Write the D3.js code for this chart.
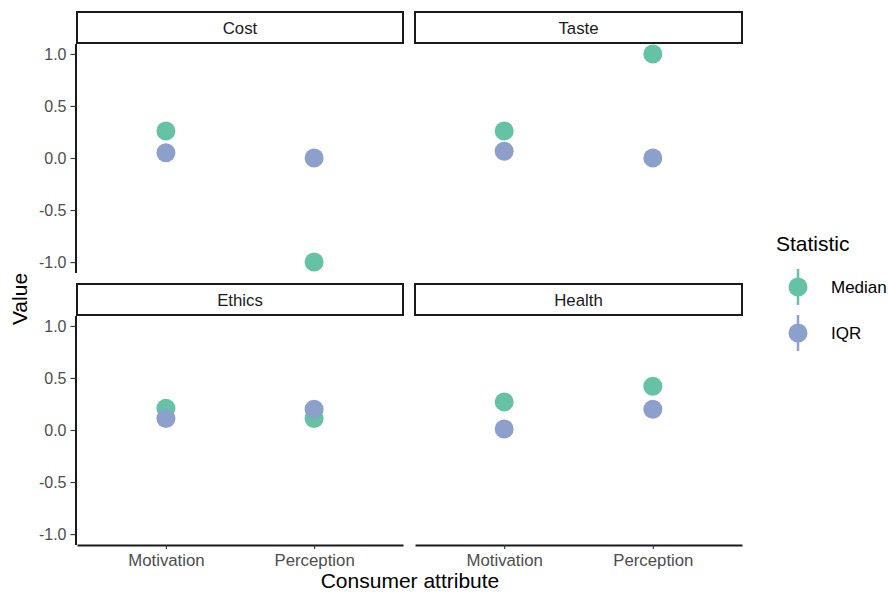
<!DOCTYPE html>
<html>
<head>
<meta charset="utf-8">
<script src="https://cdn.jsdelivr.net/npm/d3@7"></script>
<style>
  html, body { margin: 0; padding: 0; background: #fff; }
  svg { display: block; font-family: "Liberation Sans", Arial, Helvetica, sans-serif; }
</style>
</head>
<body>
<svg id="chart" width="888" height="593"></svg>
<script>
// Facets (2 x 2 grid, row-major), categories and statistics
const facets = ["Cost", "Taste", "Ethics", "Health"];
const attributes = ["Motivation", "Perception"];
const statistics = ["Median", "IQR"];

// Values per facet, ordered as in `attributes`
const medianValues = [
  [0.26, -1.0],  // Cost
  [0.26, 1.0],   // Taste
  [0.21, 0.11],  // Ethics
  [0.27, 0.42]   // Health
];
const iqrValues = [
  [0.05, 0.0],   // Cost
  [0.065, 0.0],  // Taste
  [0.11, 0.2],   // Ethics
  [0.01, 0.2]    // Health
];

const yTicks = [-1.0, -0.5, 0.0, 0.5, 1.0];
const yDomain = [-1.1, 1.1];

const colors = { Median: "#66c2a5", IQR: "#8da0cb" };

// Long-format rows built from the arrays above
const rows = [];
facets.forEach((f, fi) => {
  attributes.forEach((a, ai) => {
    rows.push({ facet: f, attribute: a, statistic: "Median", value: medianValues[fi][ai] });
    rows.push({ facet: f, attribute: a, statistic: "IQR", value: iqrValues[fi][ai] });
  });
});

const svg = d3.select("#chart");
const FONT = "Liberation Sans, Arial, Helvetica, sans-serif";

// Panel geometry
const colX = [[77, 403], [415, 742]];
const stripH = 31;
const rowY = [[12, 43.5, 272.5], [284, 315.5, 544.5]]; // strip top, panel top, panel bottom

const axisColor = "#1a1a1a";
const tickLabelColor = "#4d4d4d";

facets.forEach((facet, fi) => {
  const r = Math.floor(fi / 2), c = fi % 2;
  const [x0, x1] = colX[c];
  const [sTop, pTop, pBot] = rowY[r];

  const x = d3.scalePoint().domain(attributes).range([x0, x1]).padding(0.6);
  const y = d3.scaleLinear().domain(yDomain).range([pBot, pTop]);

  const g = svg.append("g");

  // Strip
  g.append("rect")
    .attr("x", x0).attr("y", sTop)
    .attr("width", x1 - x0).attr("height", stripH)
    .attr("fill", "#fff").attr("stroke", "#1a1a1a").attr("stroke-width", 2);
  g.append("text")
    .attr("x", (x0 + x1) / 2).attr("y", sTop + stripH / 2 + 1)
    .attr("text-anchor", "middle").attr("dominant-baseline", "central")
    .style("font-size", "16.8px").attr("fill", "#1a1a1a")
    .text(facet);

  // Y axis on left column
  if (c === 0) {
    const ya = g.append("g")
      .attr("transform", `translate(${x0 - 1.5},0)`)
      .call(d3.axisLeft(y).tickValues(yTicks).tickSize(5).tickSizeOuter(0).tickPadding(4));
    ya.select(".domain").attr("stroke", axisColor).attr("stroke-width", 2);
    ya.selectAll(".tick line").attr("stroke", "#333").attr("stroke-width", 1.1);
    ya.selectAll(".tick text").attr("fill", tickLabelColor)
      .style("font-size", "16px").style("font-family", FONT)
      .text(d => d3.format(".1f")(d).replace("\u2212", "-"));
  }

  // X axis on bottom row
  if (r === 1) {
    const xa = g.append("g")
      .attr("transform", `translate(0,${pBot + 0.5})`)
      .call(d3.axisBottom(x).tickSize(4).tickSizeOuter(0).tickPadding(5));
    xa.select(".domain").attr("stroke", axisColor).attr("stroke-width", 2);
    xa.selectAll(".tick line").attr("stroke", "#333").attr("stroke-width", 1.1);
    xa.selectAll(".tick text").attr("fill", tickLabelColor)
      .style("font-size", "16.8px").style("font-family", FONT);
  }

  // Points: Median drawn first, IQR on top
  const data = rows.filter(d => d.facet === facet);
  statistics.forEach(stat => {
    g.selectAll(null)
      .data(data.filter(d => d.statistic === stat))
      .join("circle")
      .attr("cx", d => x(d.attribute))
      .attr("cy", d => y(d.value))
      .attr("r", 9.5)
      .attr("fill", colors[stat]);
  });
});

// Axis titles
svg.append("text")
  .attr("x", 410).attr("y", 588)
  .attr("text-anchor", "middle")
  .style("font-size", "21px").attr("fill", "#000")
  .text("Consumer attribute");
svg.append("text")
  .attr("transform", "translate(27,299) rotate(-90)")
  .attr("text-anchor", "middle")
  .style("font-size", "21px").attr("fill", "#000")
  .text("Value");

// Legend
const legend = svg.append("g");
legend.append("text")
  .attr("x", 776).attr("y", 251)
  .style("font-size", "21px").attr("fill", "#000")
  .text("Statistic");
const keyY = d3.scalePoint().domain(statistics).range([287, 333]);
statistics.forEach(stat => {
  const cy = keyY(stat);
  legend.append("line")
    .attr("x1", 798).attr("x2", 798)
    .attr("y1", cy - 18).attr("y2", cy + 18)
    .attr("stroke", colors[stat]).attr("stroke-width", 2.5);
  legend.append("circle")
    .attr("cx", 798).attr("cy", cy).attr("r", 9.5)
    .attr("fill", colors[stat]);
  legend.append("text")
    .attr("x", 831).attr("y", cy)
    .attr("dominant-baseline", "central")
    .style("font-size", "17px").attr("fill", "#000")
    .text(stat);
});
</script>
</body>
</html>
